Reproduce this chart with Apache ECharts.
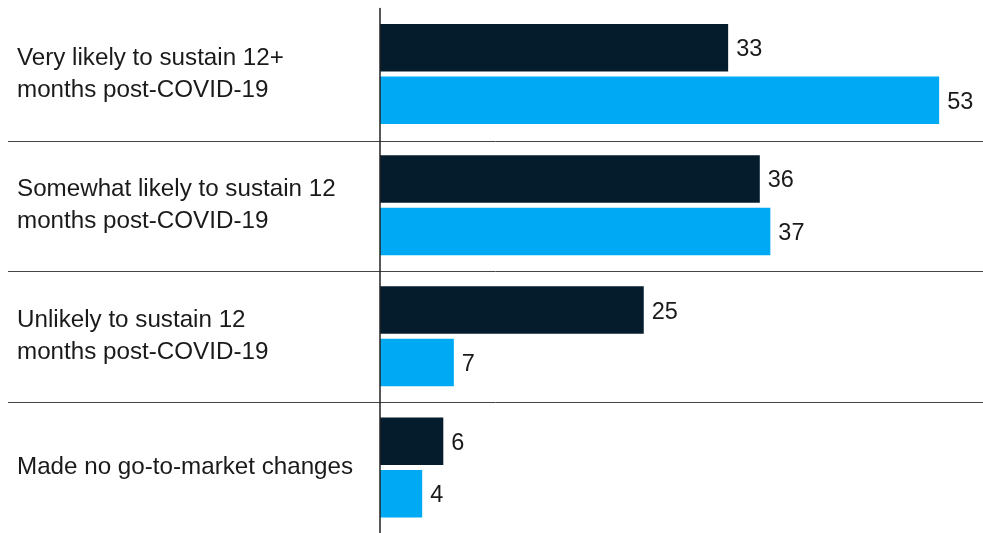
<!DOCTYPE html>
<html>
<head>
<meta charset="utf-8">
<script src="https://cdn.jsdelivr.net/npm/echarts@6/dist/echarts.min.js"></script>
<style>
html,body{margin:0;padding:0;background:#fff;}
#chart{width:983px;height:533px;}
</style>
</head>
<body>
<div id="chart"></div>
<script>
const categories = [
  'Very likely to sustain 12+\nmonths post-COVID-19',
  'Somewhat likely to sustain 12\nmonths post-COVID-19',
  'Unlikely to sustain 12\nmonths post-COVID-19',
  'Made no go-to-market changes'
];
const seriesDark = [33, 36, 25, 6];
const seriesLight = [53, 37, 7, 4];

const FONT = '"Liberation Sans", Arial, sans-serif';
const chart = echarts.init(document.getElementById('chart'));
chart.setOption({
  animation: false,
  grid: [
    {left: 380, right: 12.2, top: 8.5, height: 528, containLabel: false},
    {left: 8, right: 0, top: 10, height: 528, containLabel: false}
  ],
  xAxis: [
    {gridIndex: 0, type: 'value', min: 0, max: 56, show: false},
    {gridIndex: 1, type: 'value', min: 0, max: 1, show: false}
  ],
  yAxis: [
    {
      gridIndex: 0, type: 'category', data: categories, inverse: true, z: 10,
      axisLine: {show: true, lineStyle: {color: '#222', width: 1.5}},
      axisTick: {show: false},
      splitLine: {show: false},
      axisLabel: {
        align: 'left', margin: 363, fontSize: 24.2, lineHeight: 32,
        color: '#1a1a1a', fontFamily: FONT
      }
    },
    {
      gridIndex: 1, type: 'category', data: categories, inverse: true,
      axisLine: {show: false}, axisTick: {show: false}, axisLabel: {show: false},
      splitLine: {show: true, interval: function (idx) { return idx > 0; },
        lineStyle: {color: '#444', width: 1}}
    }
  ],
  series: [
    {
      name: 'Dark', type: 'bar', xAxisIndex: 0, yAxisIndex: 0,
      data: seriesDark, barWidth: 47.5, barGap: '10.5%',
      itemStyle: {color: '#051c2c'},
      label: {show: true, position: 'right', distance: 8, offset: [0, 2], fontSize: 23.5,
        color: '#1a1a1a', fontFamily: FONT}
    },
    {
      name: 'Light', type: 'bar', xAxisIndex: 0, yAxisIndex: 0,
      data: seriesLight, barWidth: 47.5, barGap: '10.5%',
      itemStyle: {color: '#00a9f4'},
      label: {show: true, position: 'right', distance: 8, offset: [0, 2], fontSize: 23.5,
        color: '#1a1a1a', fontFamily: FONT}
    }
  ]
});
</script>
</body>
</html>
